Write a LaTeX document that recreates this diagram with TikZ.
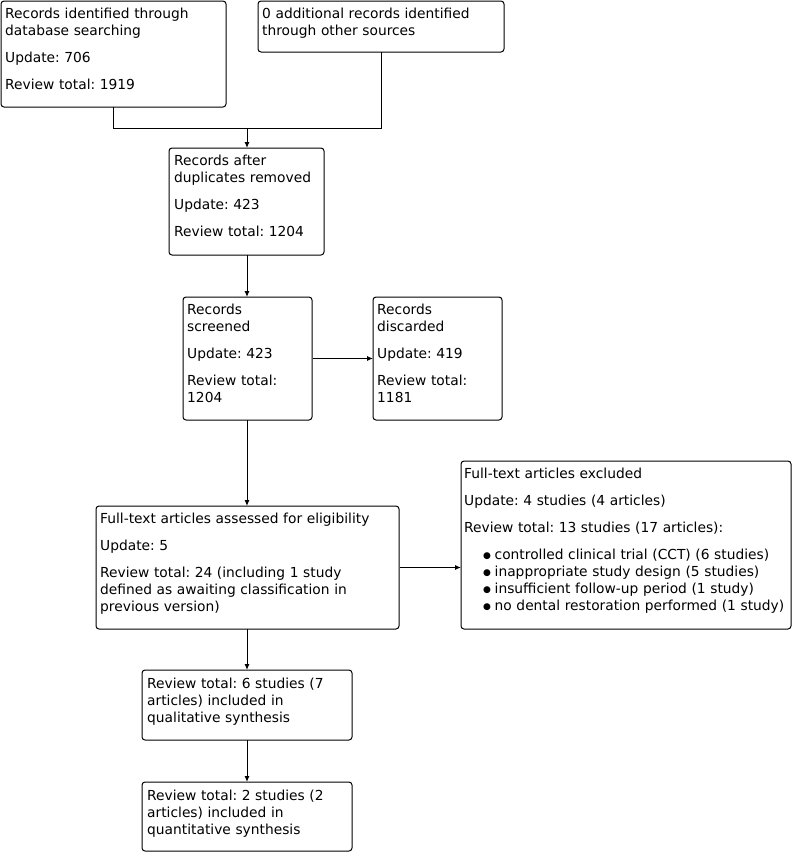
\documentclass[tikz,border=0pt]{standalone}
\usepackage{fontspec}
\setmainfont{DejaVu Sans}
\usetikzlibrary{arrows.meta}
\newcommand{\mybullet}{\hspace*{19pt}\makebox[11.5pt][l]{\raisebox{0.3pt}{\fontsize{9}{9}\selectfont ●}}}
\tikzset{
  box/.style={draw, line width=1pt, rounded corners=3pt, anchor=north west, inner sep=0pt, outer sep=0pt},
  txt/.style={anchor=base west, inner sep=0pt, text width=400pt, align=left,
    font=\fontsize{13.8}{17}\selectfont,
    execute at begin node={\fontsize{13.8}{17}\selectfont\frenchspacing\setlength{\parskip}{10pt}}},
  arr/.style={-{Latex[length=6pt,width=5pt]}, line width=1pt},
  ln/.style={line width=1pt}
}
\begin{document}
\begin{tikzpicture}[x=1pt,y=1pt]
\useasboundingbox (0,0) rectangle (792,-852);
% boxes
\node[box, minimum width=225pt, minimum height=106pt] (b1) at (1,-1) {};
\node[box, minimum width=246pt, minimum height=51pt] (b2) at (258,-1) {};
\node[box, minimum width=155pt, minimum height=107pt] (b3) at (169,-148) {};
\node[box, minimum width=129pt, minimum height=123pt] (b4) at (183,-297) {};
\node[box, minimum width=129pt, minimum height=123pt] (b5) at (373,-297) {};
\node[box, minimum width=303pt, minimum height=123pt] (b6) at (96,-506) {};
\node[box, minimum width=330pt, minimum height=168pt] (b7) at (461,-461) {};
\node[box, minimum width=210pt, minimum height=70pt] (b8) at (142,-670) {};
\node[box, minimum width=210pt, minimum height=69pt] (b9) at (142,-782) {};
% texts
\node[txt] (t1) at ([shift={(4,-17)}]b1.north west) {Records identified through\\database searching\par Update: 706\par Review total: 1919};
\node[txt] (t2) at ([shift={(4,-17)}]b2.north west) {0 additional records identified\\through other sources};
\node[txt] (t3) at ([shift={(5,-17)}]b3.north west) {Records after\\duplicates removed\par Update: 423\par Review total: 1204};
\node[txt] (t4) at ([shift={(4,-17)}]b4.north west) {Records\\screened\par Update: 423\par Review total:\\1204};
\node[txt] (t5) at ([shift={(4,-17)}]b5.north west) {Records\\discarded\par Update: 419\par Review total:\\1181};
\node[txt] (t6) at ([shift={(4,-17)}]b6.north west) {Full-text articles assessed for eligibility\par Update: 5\par Review total: 24 (including 1 study\\defined as awaiting classification in\\previous version)};
\node[txt] (t7) at ([shift={(3,-17)}]b7.north west) {Full-text articles excluded\par Update: 4 studies (4 articles)\par Review total: 13 studies (17 articles):\par
\mybullet controlled clinical trial (CCT) (6 studies)\\
\mybullet inappropriate study design (5 studies)\\
\mybullet insufficient follow-up period (1 study)\\
\mybullet no dental restoration performed (1 study)};
\node[txt] (t8) at ([shift={(5,-18)}]b8.north west) {Review total: 6 studies (7\\articles) included in\\qualitative synthesis};
\node[txt] (t9) at ([shift={(5,-18)}]b9.north west) {Review total: 2 studies (2\\articles) included in\\quantitative synthesis};
% connectors
\coordinate (j) at ([yshift=20pt]b3.north -| b8.north);
\draw[ln] (b1.south) |- (j);
\draw[ln] (b2.south) |- (j);
\draw[arr] (j) -- (b3.north -| b8.north);
\draw[arr] (b3.south -| b8.north) -- (b4.north -| b8.north);
\draw[arr] ([xshift=1pt]b4.east) -- (b5.west);
\draw[arr] (b4.south -| b8.north) -- (b6.north -| b8.north);
\draw[arr] ([xshift=1pt]b6.east) -- (b6.east -| b7.west);
\draw[arr] (b6.south -| b8.north) -- (b8.north);
\draw[arr] (b8.south) -- (b9.north -| b8.south);
\end{tikzpicture}
\end{document}
